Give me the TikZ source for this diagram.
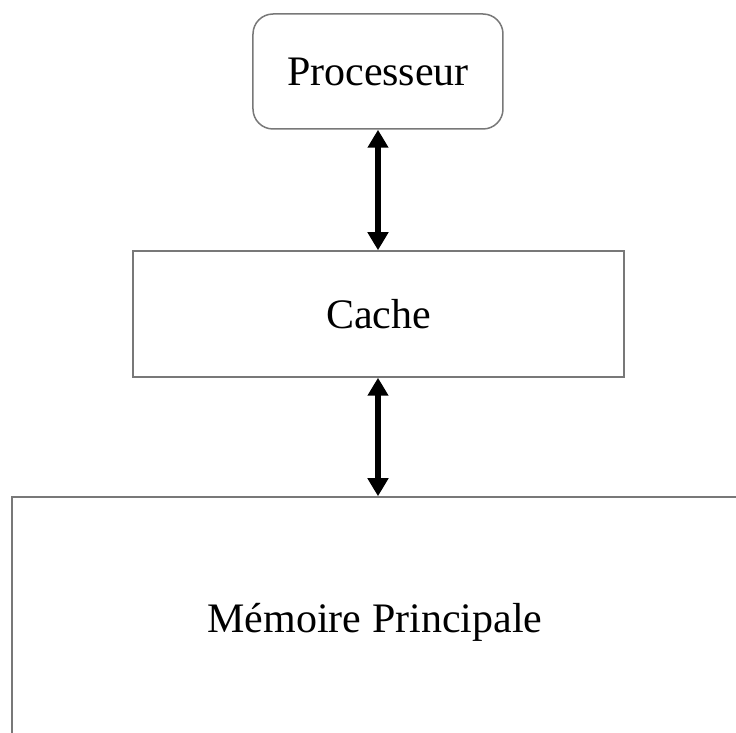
\documentclass[tikz,border=0pt]{standalone}
\usepackage{fontspec}
\setmainfont{Liberation Serif}
\usetikzlibrary{arrows.meta}
\definecolor{boxline}{RGB}{120,120,120}
\tikzset{
  box/.style={draw=boxline, line width=0.75pt, fill=white, inner sep=0pt,
              font=\fontsize{21pt}{25pt}\selectfont, text=black},
  dbl/.style={line width=2.9pt, {Triangle[width=10pt,length=9pt]}-{Triangle[width=10pt,length=9pt]}}
}
\begin{document}
\begin{tikzpicture}[x=0.5pt,y=-0.5pt]
\useasboundingbox (0,0) rectangle (736,733);
\clip (0,0) rectangle (736,733);
\fill[white] (0,0) rectangle (736,733);
\node[box, rounded corners=10pt, minimum width=125pt, minimum height=57.5pt] (proc) at (378,71.5) {Processeur};
\node[box, minimum width=245.5pt, minimum height=63pt] (cache) at (378.5,314) {Cache};
\node[box, minimum width=363pt, minimum height=125pt] (mem) at (375,622) {Mémoire Principale};
\draw[dbl] (proc.south) -- (proc.south |- cache.north);
\draw[dbl] (proc.south |- cache.south) -- (proc.south |- mem.north);
\end{tikzpicture}
\end{document}
